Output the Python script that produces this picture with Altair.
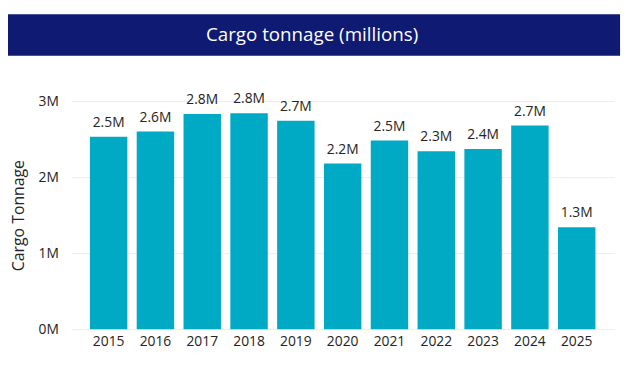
import altair as alt
import pandas as pd

years = ["2015", "2016", "2017", "2018", "2019", "2020", "2021", "2022", "2023", "2024", "2025"]
tonnage = [2.53e6, 2.60e6, 2.83e6, 2.84e6, 2.74e6, 2.18e6, 2.48e6, 2.34e6, 2.37e6, 2.68e6, 1.34e6]
title_text = "Cargo tonnage (millions)"

df = pd.DataFrame({"Year": years, "Tonnage": tonnage})

FONT = "Open Sans"
TXT = "#252423"

base = alt.Chart(df)

bars = base.mark_bar(color="#00AAC4").encode(
    x=alt.X("Year:N", sort=years, title=None,
            scale=alt.Scale(paddingInner=0.2, paddingOuter=0.4),
            axis=alt.Axis(labelAngle=0, labelFontSize=14, labelColor=TXT, labelFont=FONT,
                          ticks=False, domain=False, labelPadding=6)),
    y=alt.Y("Tonnage:Q", title="Cargo Tonnage",
            scale=alt.Scale(domain=[0, 3e6], nice=False),
            axis=alt.Axis(values=[0, 1e6, 2e6, 3e6], labelExpr="datum.value/1e6 + 'M'",
                          labelFontSize=14, labelColor=TXT, labelFont=FONT,
                          ticks=False, domain=False, labelPadding=13,
                          gridColor="#EDEDED", titleFontSize=16, titleFont=FONT,
                          titleColor=TXT, titleFontWeight="normal", titlePadding=12)),
)

labels = base.mark_text(baseline="bottom", dy=-7, fontSize=14, font=FONT, color=TXT).encode(
    x=alt.X("Year:N", sort=years),
    y="Tonnage:Q",
    text=alt.Text("label:N"),
).transform_calculate(label="format(datum.Tonnage/1e6, '.1f') + 'M'")

banner_df = alt.Data(values=[{"t": title_text}])
banner = alt.Chart(banner_df).mark_rect(color="#0F1A73").encode(
    x=alt.value(-64), x2=alt.value(556), y=alt.value(-88), y2=alt.value(-46)
)
banner_text = alt.Chart(banner_df).mark_text(
    color="white", fontSize=19, font=FONT, baseline="middle", align="center"
).encode(x=alt.value(244), y=alt.value(-67), text="t:N")

chart = alt.layer(bars, labels, banner, banner_text).properties(
    width=550, height=231,
    autosize=alt.AutoSizeParams(type="none"),
    padding={"left": 64, "top": 92, "right": 12, "bottom": 30},
).configure_view(stroke=None)

chart.save("out.html", embed_options={"renderer": "svg", "actions": False})
